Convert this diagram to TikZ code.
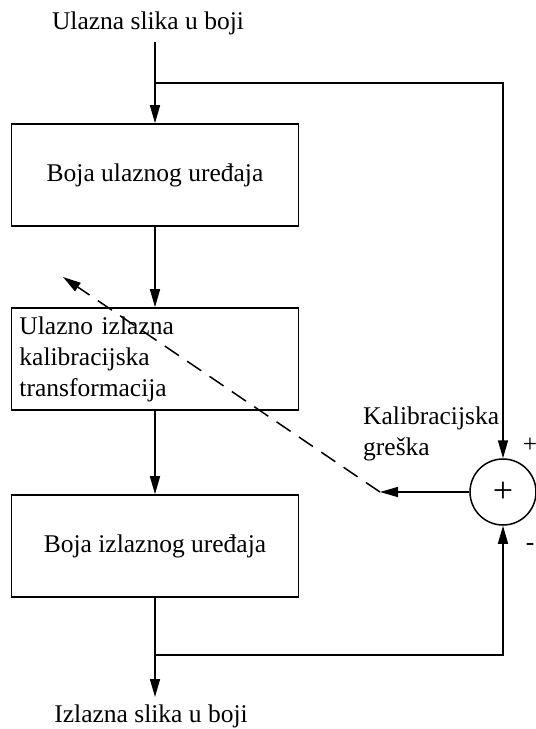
\documentclass[tikz,border=0pt]{standalone}
\usepackage{fontspec}
\setmainfont{Liberation Serif}
\usepackage{tikz}
\usetikzlibrary{arrows.meta, positioning, calc}

\begin{document}
\begin{tikzpicture}[
        x=1pt, y=-1pt,
        every node/.style={font=\fontsize{25.5}{31}\selectfont},
        block/.style={draw, line width=1.6pt, minimum width=287pt, minimum height=102pt, inner sep=8pt},
        flow/.style={line width=1.5pt, -{Triangle[length=18pt, width=10pt]}},
        summer/.style={circle, draw, line width=1.5pt, minimum size=66pt, inner sep=0pt}
    ]

    \useasboundingbox (0,0) rectangle (536,729);

    \node (inlabel) at (148,23) {Ulazna slika u boji};
    \coordinate (instart) at (155,42);
    \coordinate (split) at (155,83);

    \node[block] (inbox) at (155,175) {Boja ulaznog uređaja};
    \node[block, text width=271pt, align=left] (calib) at (155,359) {Ulazno izlazna\\kalibracijska\\transformacija};
    \node[block] (outbox) at (155,546) {Boja izlaznog uređaja};

    \coordinate (merge) at (155,655);
    \coordinate (outend) at (155,697);
    \node (outlabel) at (151,716) {Izlazna slika u boji};

    \node[summer, font=\fontsize{36}{36}\selectfont] (sum) at (503,492) {+};
    \node (plus) at (530,445) {+};
    \node (minus) at (530,547) {-};
    \node[anchor=west, align=left, inner sep=0pt] (errlabel) at (363,434) {Kalibracijska\\greška};

    \coordinate (errtip) at (380,492);
    \coordinate (dashend) at (63,277);

    \draw[flow] (instart) -- (inbox.north);
    \draw[flow] (split) -| (sum.north);
    \draw[flow] (inbox) -- (calib);
    \draw[flow] (calib) -- (outbox);
    \draw[flow] (outbox) -- (outend);
    \draw[flow] (merge) -| (sum.south);
    \draw[flow] (sum.west) -- (errtip);
    \draw[flow, dash pattern=on 17pt off 10pt] (errtip) -- (dashend);

\end{tikzpicture}
\end{document}
